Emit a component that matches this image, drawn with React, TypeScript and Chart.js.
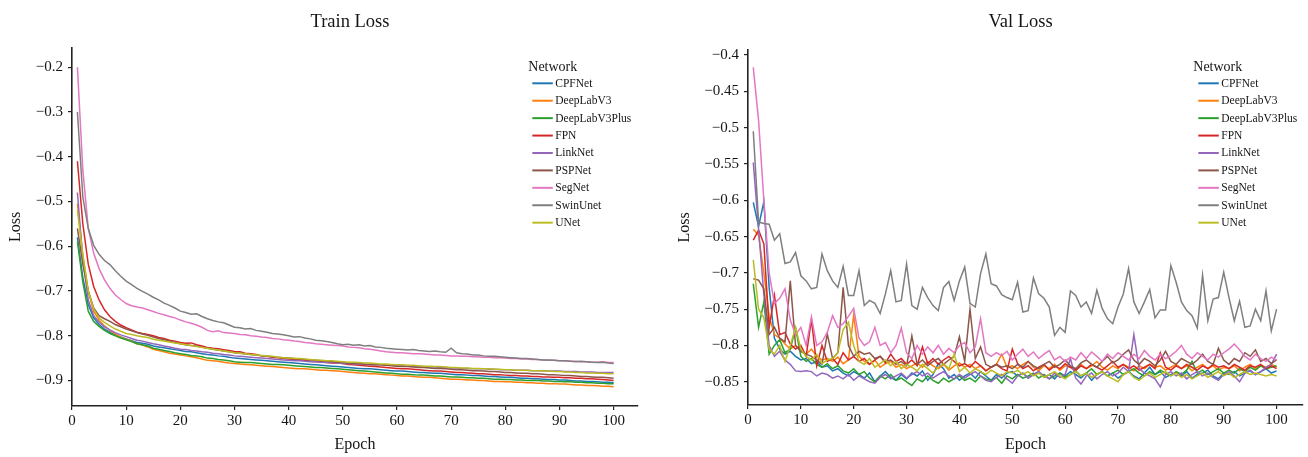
import React, { useEffect, useRef } from 'react';
import { Chart, registerables } from 'chart.js';

Chart.register(...registerables);

const NETWORKS = ['CPFNet', 'DeepLabV3', 'DeepLabV3Plus', 'FPN', 'LinkNet', 'PSPNet', 'SegNet', 'SwinUnet', 'UNet'];
const COLORS = ['#1f77b4', '#ff7f0e', '#2ca02c', '#d62728', '#9467bd', '#8c564b', '#e377c2', '#7f7f7f', '#bcbd22'];
const EPOCHS = Array.from({ length: 100 }, (_, i) => i + 1);
const X_TICKS = [0, 10, 20, 30, 40, 50, 60, 70, 80, 90, 100];
const TRAIN_Y_TICKS = [-0.9, -0.8, -0.7, -0.6, -0.5, -0.4, -0.3, -0.2];
const VAL_Y_TICKS = [-0.85, -0.8, -0.75, -0.7, -0.65, -0.6, -0.55, -0.5, -0.45, -0.4];

// ---------------- Train loss ----------------
const TRAIN_CPFNet = [
  -0.580, -0.670, -0.730, -0.760, -0.775, -0.785, -0.792, -0.798, -0.803, -0.807,
  -0.811, -0.815, -0.817, -0.819, -0.823, -0.825, -0.827, -0.829, -0.831, -0.833,
  -0.835, -0.836, -0.838, -0.840, -0.842, -0.843, -0.845, -0.846, -0.848, -0.850,
  -0.851, -0.852, -0.853, -0.854, -0.855, -0.856, -0.857, -0.858, -0.859, -0.860,
  -0.861, -0.862, -0.863, -0.864, -0.865, -0.866, -0.867, -0.868, -0.869, -0.870,
  -0.871, -0.872, -0.873, -0.874, -0.874, -0.875, -0.876, -0.877, -0.878, -0.879,
  -0.879, -0.880, -0.881, -0.882, -0.882, -0.883, -0.884, -0.884, -0.885, -0.886,
  -0.887, -0.887, -0.888, -0.889, -0.889, -0.890, -0.891, -0.891, -0.892, -0.893,
  -0.893, -0.894, -0.895, -0.895, -0.896, -0.896, -0.897, -0.898, -0.898, -0.899,
  -0.899, -0.900, -0.901, -0.901, -0.902, -0.902, -0.903, -0.904, -0.904, -0.905,
];
const TRAIN_DeepLabV3 = [
  -0.505, -0.620, -0.700, -0.745, -0.765, -0.778, -0.788, -0.796, -0.803, -0.808,
  -0.812, -0.818, -0.821, -0.825, -0.830, -0.833, -0.836, -0.839, -0.841, -0.843,
  -0.845, -0.847, -0.849, -0.852, -0.855, -0.856, -0.857, -0.859, -0.861, -0.862,
  -0.863, -0.864, -0.865, -0.866, -0.867, -0.868, -0.869, -0.870, -0.871, -0.872,
  -0.873, -0.874, -0.874, -0.875, -0.876, -0.877, -0.877, -0.878, -0.879, -0.880,
  -0.881, -0.882, -0.883, -0.884, -0.885, -0.885, -0.886, -0.887, -0.888, -0.889,
  -0.890, -0.890, -0.891, -0.892, -0.893, -0.893, -0.894, -0.895, -0.896, -0.897,
  -0.897, -0.898, -0.899, -0.899, -0.900, -0.900, -0.901, -0.902, -0.902, -0.903,
  -0.903, -0.904, -0.904, -0.905, -0.905, -0.906, -0.906, -0.907, -0.907, -0.908,
  -0.908, -0.909, -0.910, -0.910, -0.911, -0.911, -0.912, -0.913, -0.913, -0.914,
];
const TRAIN_DeepLabV3Plus = [
  -0.590, -0.680, -0.745, -0.768, -0.779, -0.788, -0.795, -0.800, -0.805, -0.809,
  -0.813, -0.818, -0.820, -0.823, -0.828, -0.830, -0.833, -0.835, -0.838, -0.840,
  -0.842, -0.844, -0.845, -0.847, -0.850, -0.851, -0.853, -0.854, -0.856, -0.858,
  -0.859, -0.860, -0.860, -0.861, -0.862, -0.863, -0.864, -0.864, -0.865, -0.866,
  -0.867, -0.868, -0.869, -0.870, -0.871, -0.871, -0.872, -0.873, -0.874, -0.875,
  -0.876, -0.877, -0.878, -0.879, -0.880, -0.881, -0.882, -0.883, -0.884, -0.885,
  -0.886, -0.886, -0.887, -0.888, -0.888, -0.889, -0.890, -0.890, -0.891, -0.892,
  -0.892, -0.893, -0.894, -0.894, -0.895, -0.895, -0.896, -0.897, -0.897, -0.898,
  -0.898, -0.899, -0.899, -0.900, -0.900, -0.900, -0.901, -0.901, -0.902, -0.902,
  -0.903, -0.903, -0.904, -0.904, -0.905, -0.905, -0.906, -0.906, -0.907, -0.907,
];
const TRAIN_FPN = [
  -0.410, -0.550, -0.640, -0.690, -0.720, -0.742, -0.757, -0.768, -0.776, -0.782,
  -0.787, -0.792, -0.795, -0.797, -0.800, -0.804, -0.806, -0.810, -0.812, -0.815,
  -0.817, -0.816, -0.820, -0.823, -0.826, -0.828, -0.829, -0.831, -0.833, -0.835,
  -0.836, -0.839, -0.840, -0.842, -0.845, -0.846, -0.848, -0.849, -0.851, -0.852,
  -0.853, -0.854, -0.855, -0.857, -0.858, -0.858, -0.860, -0.861, -0.861, -0.862,
  -0.864, -0.865, -0.866, -0.867, -0.868, -0.869, -0.870, -0.871, -0.872, -0.873,
  -0.874, -0.874, -0.875, -0.876, -0.877, -0.878, -0.879, -0.879, -0.880, -0.881,
  -0.882, -0.882, -0.883, -0.884, -0.885, -0.885, -0.886, -0.887, -0.887, -0.888,
  -0.889, -0.889, -0.890, -0.890, -0.891, -0.891, -0.892, -0.892, -0.893, -0.893,
  -0.894, -0.894, -0.895, -0.895, -0.896, -0.896, -0.897, -0.898, -0.899, -0.900,
];
const TRAIN_LinkNet = [
  -0.480, -0.630, -0.720, -0.755, -0.770, -0.780, -0.787, -0.793, -0.798, -0.802,
  -0.806, -0.810, -0.812, -0.815, -0.818, -0.820, -0.823, -0.825, -0.828, -0.830,
  -0.831, -0.833, -0.834, -0.836, -0.837, -0.839, -0.840, -0.842, -0.843, -0.845,
  -0.846, -0.847, -0.848, -0.849, -0.850, -0.851, -0.852, -0.853, -0.854, -0.855,
  -0.856, -0.856, -0.857, -0.858, -0.858, -0.859, -0.860, -0.860, -0.861, -0.862,
  -0.862, -0.863, -0.863, -0.864, -0.864, -0.865, -0.865, -0.866, -0.866, -0.867,
  -0.867, -0.868, -0.868, -0.869, -0.869, -0.870, -0.870, -0.871, -0.871, -0.872,
  -0.872, -0.873, -0.873, -0.874, -0.874, -0.874, -0.875, -0.875, -0.876, -0.876,
  -0.876, -0.877, -0.877, -0.877, -0.878, -0.878, -0.878, -0.879, -0.879, -0.879,
  -0.880, -0.880, -0.880, -0.881, -0.881, -0.881, -0.882, -0.882, -0.882, -0.882,
];
const TRAIN_PSPNet = [
  -0.560, -0.640, -0.700, -0.738, -0.755, -0.762, -0.768, -0.775, -0.780, -0.785,
  -0.789, -0.793, -0.796, -0.799, -0.803, -0.806, -0.809, -0.812, -0.815, -0.818,
  -0.820, -0.822, -0.823, -0.826, -0.828, -0.830, -0.832, -0.834, -0.836, -0.838,
  -0.839, -0.841, -0.842, -0.843, -0.845, -0.846, -0.847, -0.848, -0.849, -0.850,
  -0.851, -0.852, -0.853, -0.854, -0.855, -0.856, -0.857, -0.858, -0.859, -0.860,
  -0.861, -0.862, -0.862, -0.863, -0.864, -0.865, -0.865, -0.866, -0.867, -0.868,
  -0.869, -0.869, -0.870, -0.871, -0.871, -0.872, -0.873, -0.873, -0.874, -0.875,
  -0.876, -0.876, -0.877, -0.878, -0.878, -0.879, -0.880, -0.880, -0.881, -0.882,
  -0.882, -0.883, -0.884, -0.884, -0.885, -0.885, -0.886, -0.887, -0.887, -0.888,
  -0.889, -0.889, -0.890, -0.891, -0.891, -0.892, -0.893, -0.893, -0.894, -0.895,
];
const TRAIN_SegNet = [
  -0.200, -0.430, -0.560, -0.615, -0.650, -0.675, -0.694, -0.709, -0.719, -0.728,
  -0.733, -0.736, -0.738, -0.742, -0.746, -0.750, -0.753, -0.757, -0.760, -0.765,
  -0.769, -0.772, -0.776, -0.781, -0.788, -0.791, -0.789, -0.793, -0.794, -0.795,
  -0.797, -0.798, -0.800, -0.801, -0.803, -0.804, -0.806, -0.807, -0.809, -0.810,
  -0.812, -0.813, -0.815, -0.816, -0.818, -0.819, -0.820, -0.821, -0.822, -0.823,
  -0.825, -0.826, -0.827, -0.829, -0.830, -0.832, -0.834, -0.836, -0.837, -0.838,
  -0.838, -0.839, -0.840, -0.840, -0.841, -0.842, -0.843, -0.843, -0.844, -0.845,
  -0.845, -0.846, -0.846, -0.847, -0.847, -0.848, -0.848, -0.849, -0.849, -0.850,
  -0.851, -0.851, -0.852, -0.852, -0.853, -0.853, -0.854, -0.855, -0.855, -0.856,
  -0.856, -0.857, -0.857, -0.858, -0.858, -0.859, -0.859, -0.858, -0.860, -0.860,
];
const TRAIN_SwinUnet = [
  -0.300, -0.490, -0.560, -0.598, -0.618, -0.632, -0.641, -0.655, -0.667, -0.678,
  -0.686, -0.694, -0.701, -0.707, -0.714, -0.720, -0.727, -0.732, -0.738, -0.745,
  -0.748, -0.752, -0.751, -0.757, -0.762, -0.766, -0.769, -0.771, -0.776, -0.781,
  -0.782, -0.785, -0.784, -0.788, -0.790, -0.792, -0.795, -0.796, -0.798, -0.800,
  -0.803, -0.802, -0.805, -0.807, -0.810, -0.811, -0.813, -0.815, -0.818, -0.820,
  -0.819, -0.821, -0.820, -0.823, -0.822, -0.825, -0.826, -0.828, -0.829, -0.830,
  -0.831, -0.832, -0.831, -0.833, -0.834, -0.835, -0.834, -0.836, -0.837, -0.828,
  -0.838, -0.840, -0.841, -0.843, -0.843, -0.845, -0.846, -0.846, -0.847, -0.848,
  -0.849, -0.850, -0.851, -0.851, -0.852, -0.853, -0.854, -0.854, -0.855, -0.856,
  -0.856, -0.857, -0.858, -0.857, -0.858, -0.859, -0.860, -0.859, -0.861, -0.862,
];
const TRAIN_UNet = [
  -0.520, -0.620, -0.700, -0.740, -0.760, -0.770, -0.778, -0.785, -0.790, -0.795,
  -0.797, -0.800, -0.802, -0.804, -0.808, -0.810, -0.812, -0.814, -0.816, -0.818,
  -0.820, -0.822, -0.824, -0.826, -0.828, -0.830, -0.832, -0.834, -0.836, -0.838,
  -0.839, -0.840, -0.842, -0.843, -0.844, -0.845, -0.846, -0.848, -0.849, -0.850,
  -0.851, -0.851, -0.852, -0.853, -0.854, -0.855, -0.856, -0.856, -0.857, -0.858,
  -0.859, -0.859, -0.860, -0.861, -0.861, -0.862, -0.863, -0.863, -0.864, -0.865,
  -0.865, -0.866, -0.866, -0.867, -0.868, -0.868, -0.869, -0.869, -0.870, -0.871,
  -0.871, -0.872, -0.872, -0.873, -0.873, -0.874, -0.874, -0.875, -0.875, -0.876,
  -0.876, -0.877, -0.877, -0.877, -0.878, -0.878, -0.879, -0.879, -0.880, -0.880,
  -0.881, -0.881, -0.882, -0.882, -0.883, -0.883, -0.884, -0.884, -0.885, -0.885,
];

// ---------------- Val loss ----------------
const VAL_CPFNet = [
  -0.603, -0.636, -0.602, -0.720, -0.790, -0.805, -0.812, -0.808, -0.815, -0.820,
  -0.818, -0.825, -0.822, -0.830, -0.828, -0.835, -0.832, -0.838, -0.842, -0.836,
  -0.840, -0.845, -0.838, -0.850, -0.842, -0.836, -0.844, -0.848, -0.840, -0.846,
  -0.838, -0.842, -0.835, -0.848, -0.840, -0.825, -0.832, -0.845, -0.840, -0.848,
  -0.842, -0.838, -0.845, -0.836, -0.842, -0.848, -0.840, -0.845, -0.838, -0.836,
  -0.842, -0.838, -0.845, -0.840, -0.836, -0.844, -0.840, -0.846, -0.838, -0.842,
  -0.836, -0.840, -0.845, -0.838, -0.848, -0.840, -0.836, -0.842, -0.838, -0.845,
  -0.840, -0.836, -0.842, -0.846, -0.838, -0.830, -0.840, -0.836, -0.844, -0.840,
  -0.838, -0.842, -0.836, -0.845, -0.840, -0.838, -0.834, -0.842, -0.846, -0.838,
  -0.840, -0.836, -0.842, -0.838, -0.835, -0.840, -0.836, -0.832, -0.838, -0.835,
];
const VAL_DeepLabV3 = [
  -0.640, -0.648, -0.700, -0.760, -0.785, -0.790, -0.798, -0.805, -0.800, -0.808,
  -0.812, -0.805, -0.815, -0.820, -0.818, -0.822, -0.816, -0.825, -0.820, -0.758,
  -0.815, -0.822, -0.826, -0.820, -0.830, -0.825, -0.822, -0.830, -0.826, -0.832,
  -0.828, -0.824, -0.830, -0.822, -0.828, -0.832, -0.826, -0.834, -0.828, -0.824,
  -0.830, -0.826, -0.832, -0.828, -0.835, -0.830, -0.826, -0.812, -0.830, -0.828,
  -0.832, -0.826, -0.822, -0.830, -0.835, -0.828, -0.832, -0.826, -0.834, -0.828,
  -0.830, -0.835, -0.826, -0.832, -0.828, -0.822, -0.830, -0.834, -0.828, -0.832,
  -0.826, -0.830, -0.835, -0.828, -0.832, -0.826, -0.830, -0.828, -0.834, -0.830,
  -0.826, -0.832, -0.828, -0.835, -0.830, -0.826, -0.832, -0.828, -0.834, -0.830,
  -0.832, -0.828, -0.835, -0.830, -0.826, -0.832, -0.828, -0.830, -0.826, -0.830,
];
const VAL_DeepLabV3Plus = [
  -0.715, -0.775, -0.740, -0.812, -0.800, -0.792, -0.810, -0.805, -0.776, -0.815,
  -0.822, -0.818, -0.826, -0.830, -0.825, -0.832, -0.828, -0.835, -0.838, -0.832,
  -0.840, -0.836, -0.845, -0.850, -0.842, -0.846, -0.840, -0.848, -0.845, -0.850,
  -0.855, -0.846, -0.850, -0.842, -0.848, -0.852, -0.845, -0.850, -0.846, -0.842,
  -0.848, -0.845, -0.850, -0.842, -0.846, -0.848, -0.844, -0.852, -0.842, -0.846,
  -0.840, -0.845, -0.842, -0.838, -0.845, -0.840, -0.846, -0.842, -0.838, -0.844,
  -0.840, -0.835, -0.842, -0.838, -0.832, -0.840, -0.836, -0.842, -0.838, -0.834,
  -0.840, -0.836, -0.832, -0.838, -0.842, -0.836, -0.840, -0.834, -0.838, -0.842,
  -0.836, -0.840, -0.834, -0.822, -0.838, -0.834, -0.840, -0.836, -0.832, -0.838,
  -0.834, -0.838, -0.832, -0.836, -0.830, -0.834, -0.828, -0.832, -0.830, -0.828,
];
const VAL_FPN = [
  -0.655, -0.641, -0.660, -0.775, -0.731, -0.785, -0.782, -0.798, -0.805, -0.800,
  -0.815, -0.764, -0.828, -0.800, -0.822, -0.818, -0.826, -0.810, -0.820, -0.815,
  -0.822, -0.818, -0.826, -0.820, -0.815, -0.824, -0.812, -0.822, -0.818, -0.826,
  -0.820, -0.828, -0.802, -0.825, -0.818, -0.826, -0.820, -0.815, -0.822, -0.828,
  -0.825, -0.830, -0.822, -0.828, -0.835, -0.830, -0.826, -0.832, -0.835, -0.805,
  -0.825, -0.832, -0.828, -0.835, -0.830, -0.826, -0.834, -0.828, -0.832, -0.825,
  -0.830, -0.834, -0.828, -0.832, -0.826, -0.830, -0.834, -0.828, -0.822, -0.830,
  -0.826, -0.832, -0.828, -0.834, -0.830, -0.826, -0.832, -0.810, -0.830, -0.834,
  -0.828, -0.832, -0.826, -0.830, -0.834, -0.828, -0.832, -0.826, -0.830, -0.828,
  -0.832, -0.826, -0.830, -0.834, -0.828, -0.830, -0.826, -0.832, -0.828, -0.832,
];
const VAL_LinkNet = [
  -0.548, -0.640, -0.730, -0.800, -0.815, -0.808, -0.820, -0.826, -0.835, -0.836,
  -0.835, -0.836, -0.842, -0.838, -0.840, -0.845, -0.842, -0.846, -0.840, -0.848,
  -0.842, -0.846, -0.850, -0.852, -0.844, -0.840, -0.846, -0.842, -0.838, -0.845,
  -0.840, -0.836, -0.842, -0.838, -0.845, -0.840, -0.836, -0.842, -0.846, -0.840,
  -0.845, -0.840, -0.836, -0.842, -0.848, -0.850, -0.844, -0.840, -0.846, -0.852,
  -0.842, -0.838, -0.845, -0.840, -0.836, -0.842, -0.846, -0.838, -0.844, -0.840,
  -0.818, -0.845, -0.853, -0.842, -0.838, -0.846, -0.840, -0.836, -0.842, -0.838,
  -0.830, -0.836, -0.785, -0.832, -0.838, -0.842, -0.846, -0.857, -0.840, -0.836,
  -0.842, -0.838, -0.846, -0.840, -0.836, -0.842, -0.838, -0.844, -0.848, -0.840,
  -0.836, -0.842, -0.850, -0.838, -0.834, -0.840, -0.836, -0.830, -0.826, -0.812,
];
const VAL_PSPNet = [
  -0.708, -0.710, -0.722, -0.785, -0.775, -0.790, -0.795, -0.711, -0.800, -0.808,
  -0.812, -0.815, -0.820, -0.826, -0.784, -0.818, -0.810, -0.720, -0.800, -0.815,
  -0.808, -0.812, -0.810, -0.818, -0.815, -0.822, -0.820, -0.826, -0.822, -0.828,
  -0.787, -0.826, -0.820, -0.828, -0.822, -0.818, -0.826, -0.820, -0.815, -0.788,
  -0.822, -0.750, -0.818, -0.802, -0.826, -0.830, -0.826, -0.830, -0.828, -0.832,
  -0.826, -0.830, -0.822, -0.828, -0.832, -0.826, -0.822, -0.830, -0.826, -0.820,
  -0.828, -0.832, -0.824, -0.820, -0.826, -0.830, -0.822, -0.815, -0.824, -0.820,
  -0.812, -0.806, -0.820, -0.826, -0.818, -0.822, -0.828, -0.820, -0.808, -0.822,
  -0.826, -0.818, -0.822, -0.826, -0.820, -0.812, -0.822, -0.826, -0.804, -0.820,
  -0.826, -0.818, -0.822, -0.810, -0.815, -0.806, -0.822, -0.818, -0.825, -0.820,
];
const VAL_SegNet = [
  -0.417, -0.490, -0.600, -0.700, -0.742, -0.735, -0.722, -0.765, -0.785, -0.775,
  -0.800, -0.761, -0.800, -0.795, -0.782, -0.759, -0.775, -0.770, -0.760, -0.749,
  -0.790, -0.800, -0.795, -0.775, -0.800, -0.796, -0.810, -0.800, -0.776, -0.810,
  -0.818, -0.800, -0.812, -0.802, -0.810, -0.800, -0.812, -0.804, -0.810, -0.800,
  -0.796, -0.810, -0.802, -0.763, -0.810, -0.815, -0.810, -0.814, -0.808, -0.820,
  -0.812, -0.805, -0.815, -0.809, -0.818, -0.812, -0.807, -0.820, -0.815, -0.822,
  -0.816, -0.820, -0.810, -0.818, -0.809, -0.815, -0.822, -0.812, -0.818, -0.810,
  -0.815, -0.820, -0.812, -0.818, -0.807, -0.815, -0.820, -0.812, -0.818, -0.814,
  -0.808, -0.800, -0.812, -0.818, -0.810, -0.815, -0.820, -0.812, -0.816, -0.810,
  -0.805, -0.798, -0.806, -0.815, -0.820, -0.812, -0.818, -0.822, -0.816, -0.820,
];
const VAL_SwinUnet = [
  -0.505, -0.630, -0.632, -0.633, -0.655, -0.646, -0.687, -0.685, -0.672, -0.704,
  -0.711, -0.722, -0.720, -0.674, -0.697, -0.711, -0.720, -0.691, -0.731, -0.731,
  -0.697, -0.745, -0.738, -0.742, -0.756, -0.729, -0.697, -0.740, -0.738, -0.688,
  -0.745, -0.750, -0.720, -0.734, -0.745, -0.752, -0.720, -0.712, -0.738, -0.711,
  -0.692, -0.742, -0.747, -0.701, -0.674, -0.715, -0.718, -0.730, -0.734, -0.737,
  -0.713, -0.754, -0.752, -0.707, -0.729, -0.735, -0.747, -0.786, -0.775, -0.782,
  -0.725, -0.731, -0.747, -0.740, -0.756, -0.724, -0.749, -0.763, -0.770, -0.747,
  -0.729, -0.694, -0.740, -0.756, -0.740, -0.723, -0.762, -0.751, -0.751, -0.690,
  -0.713, -0.740, -0.752, -0.759, -0.776, -0.703, -0.766, -0.736, -0.734, -0.699,
  -0.734, -0.766, -0.739, -0.775, -0.773, -0.750, -0.766, -0.725, -0.780, -0.750,
];
const VAL_UNet = [
  -0.682, -0.750, -0.762, -0.805, -0.812, -0.800, -0.822, -0.800, -0.775, -0.805,
  -0.815, -0.820, -0.812, -0.825, -0.820, -0.818, -0.810, -0.778, -0.768, -0.800,
  -0.822, -0.826, -0.818, -0.830, -0.825, -0.820, -0.828, -0.822, -0.832, -0.826,
  -0.830, -0.835, -0.826, -0.832, -0.838, -0.830, -0.825, -0.832, -0.812, -0.836,
  -0.830, -0.838, -0.832, -0.836, -0.840, -0.834, -0.838, -0.842, -0.836, -0.838,
  -0.834, -0.840, -0.836, -0.842, -0.838, -0.844, -0.840, -0.836, -0.842, -0.846,
  -0.840, -0.836, -0.842, -0.838, -0.844, -0.840, -0.836, -0.842, -0.846, -0.850,
  -0.840, -0.836, -0.844, -0.848, -0.842, -0.838, -0.844, -0.840, -0.836, -0.842,
  -0.838, -0.844, -0.840, -0.846, -0.842, -0.838, -0.844, -0.840, -0.836, -0.842,
  -0.838, -0.844, -0.840, -0.836, -0.840, -0.838, -0.840, -0.842, -0.840, -0.842,
];

const TRAIN_SERIES = [TRAIN_CPFNet, TRAIN_DeepLabV3, TRAIN_DeepLabV3Plus, TRAIN_FPN, TRAIN_LinkNet, TRAIN_PSPNet, TRAIN_SegNet, TRAIN_SwinUnet, TRAIN_UNet];
const VAL_SERIES = [VAL_CPFNet, VAL_DeepLabV3, VAL_DeepLabV3Plus, VAL_FPN, VAL_LinkNet, VAL_PSPNet, VAL_SegNet, VAL_SwinUnet, VAL_UNet];

const FONT = '"Liberation Serif", "Times New Roman", serif';
const INK = '#151515';

const fmtTick = (v: number) => {
  const s = Math.abs(v).toFixed(2).replace(/0$/, '');
  return (v < 0 ? '\u2212' : '') + s;
};

const decorPlugin = {
  id: 'decor',
  afterDraw(chart: any, _args: any, opts: any) {
    const { ctx, chartArea } = chart;
    ctx.save();
    ctx.fillStyle = INK;
    ctx.font = `18.5px ${FONT}`;
    ctx.textAlign = 'center';
    ctx.textBaseline = 'alphabetic';
    ctx.fillText(opts.title, (chartArea.left + chartArea.right) / 2 - 5, 26.5);

    ctx.textAlign = 'left';
    ctx.font = `14px ${FONT}`;
    ctx.fillText('Network', opts.titleX, 70.5);
    ctx.font = `11.5px ${FONT}`;
    ctx.textBaseline = 'middle';
    chart.data.datasets.forEach((ds: any, i: number) => {
      const y = 83.3 + i * 17.42;
      ctx.strokeStyle = ds.borderColor;
      ctx.lineWidth = 2;
      ctx.beginPath();
      ctx.moveTo(opts.lineX, y);
      ctx.lineTo(opts.lineX + 20.5, y);
      ctx.stroke();
      ctx.fillStyle = INK;
      ctx.fillText(ds.label, opts.lineX + 23, y + 0.5);
    });
    ctx.restore();
  },
};

type Cfg = {
  title: string;
  series: number[][];
  yMin: number;
  yMax: number;
  yTicks: number[];
  xMax: number;
  padTop: number;
  padRight: number;
  yAxisW: number;
  xAxisH: number;
  yTitlePad: number;
  legendTitleX: number;
  legendLineX: number;
};

const LEFT: Cfg = {
  title: 'Train Loss', series: TRAIN_SERIES, yMin: -0.957, yMax: -0.157, yTicks: TRAIN_Y_TICKS,
  xMax: 104.5, padTop: 48, padRight: 16, yAxisW: 72, xAxisH: 51, yTitlePad: 6,
  legendTitleX: 528.3, legendLineX: 532.3,
};
const RIGHT: Cfg = {
  title: 'Val Loss', series: VAL_SERIES, yMin: -0.882, yMax: -0.393, yTicks: VAL_Y_TICKS,
  xMax: 105, padTop: 50, padRight: 5, yAxisW: 94, xAxisH: 52, yTitlePad: 21,
  legendTitleX: 539.3, legendLineX: 544.3,
};

function LossChart({ cfg }: { cfg: Cfg }) {
  const ref = useRef<HTMLCanvasElement>(null);
  useEffect(() => {
    if (!ref.current) return;
    const datasets = NETWORKS.map((name, i) => ({
      label: name,
      data: EPOCHS.map((e, j) => ({ x: e, y: cfg.series[i][j] })),
      borderColor: COLORS[i],
      backgroundColor: COLORS[i],
      borderWidth: 1.5,
      pointRadius: 0,
      tension: 0,
      fill: false,
      order: NETWORKS.length - i,
    }));
    const chart = new Chart(ref.current, {
      type: 'line',
      data: { datasets },
      plugins: [decorPlugin],
      options: {
        responsive: false,
        animation: false,
        devicePixelRatio: 1,
        layout: { padding: { top: cfg.padTop, right: cfg.padRight, left: 0, bottom: 0 } },
        plugins: {
          legend: { display: false },
          tooltip: { enabled: false },
          decor: { title: cfg.title, titleX: cfg.legendTitleX, lineX: cfg.legendLineX },
        } as any,
        scales: {
          x: {
            type: 'linear',
            min: 0,
            max: cfg.xMax,
            afterBuildTicks: (s: any) => { s.ticks = X_TICKS.map((v) => ({ value: v })); },
            afterFit: (s: any) => { s.height = cfg.xAxisH; },
            ticks: { font: { family: FONT, size: 15 }, color: INK, padding: 2, maxRotation: 0, autoSkip: false },
            grid: { display: true, drawOnChartArea: false, drawTicks: true, tickLength: 4, color: '#222', lineWidth: 1.2 },
            border: { display: true, color: '#222', width: 1.6 },
            title: { display: true, text: 'Epoch', font: { family: FONT, size: 16 }, color: INK, padding: { top: 0, bottom: 3 } },
          },
          y: {
            type: 'linear',
            min: cfg.yMin,
            max: cfg.yMax,
            afterBuildTicks: (s: any) => { s.ticks = cfg.yTicks.map((v) => ({ value: v })); },
            afterFit: (s: any) => { s.width = cfg.yAxisW; },
            ticks: { font: { family: FONT, size: 15 }, color: INK, padding: 5, autoSkip: false, callback: (v: any) => fmtTick(Number(v)) },
            grid: { display: true, drawOnChartArea: false, drawTicks: true, tickLength: 4, color: '#222', lineWidth: 1.2 },
            border: { display: true, color: '#222', width: 1.6 },
            title: { display: true, text: 'Loss', font: { family: FONT, size: 16 }, color: INK, padding: { top: cfg.yTitlePad, bottom: 0 } },
          },
        },
      } as any,
    });
    return () => chart.destroy();
  }, [cfg]);
  return <canvas ref={ref} width={654} height={457} style={{ display: 'block', width: 654, height: 457 }} />;
}

export default function App() {
  return (
    <div style={{ position: 'fixed', left: 0, top: 0, width: 1308, height: 457, background: '#fff', display: 'flex' }}>
      <LossChart cfg={LEFT} />
      <LossChart cfg={RIGHT} />
    </div>
  );
}
